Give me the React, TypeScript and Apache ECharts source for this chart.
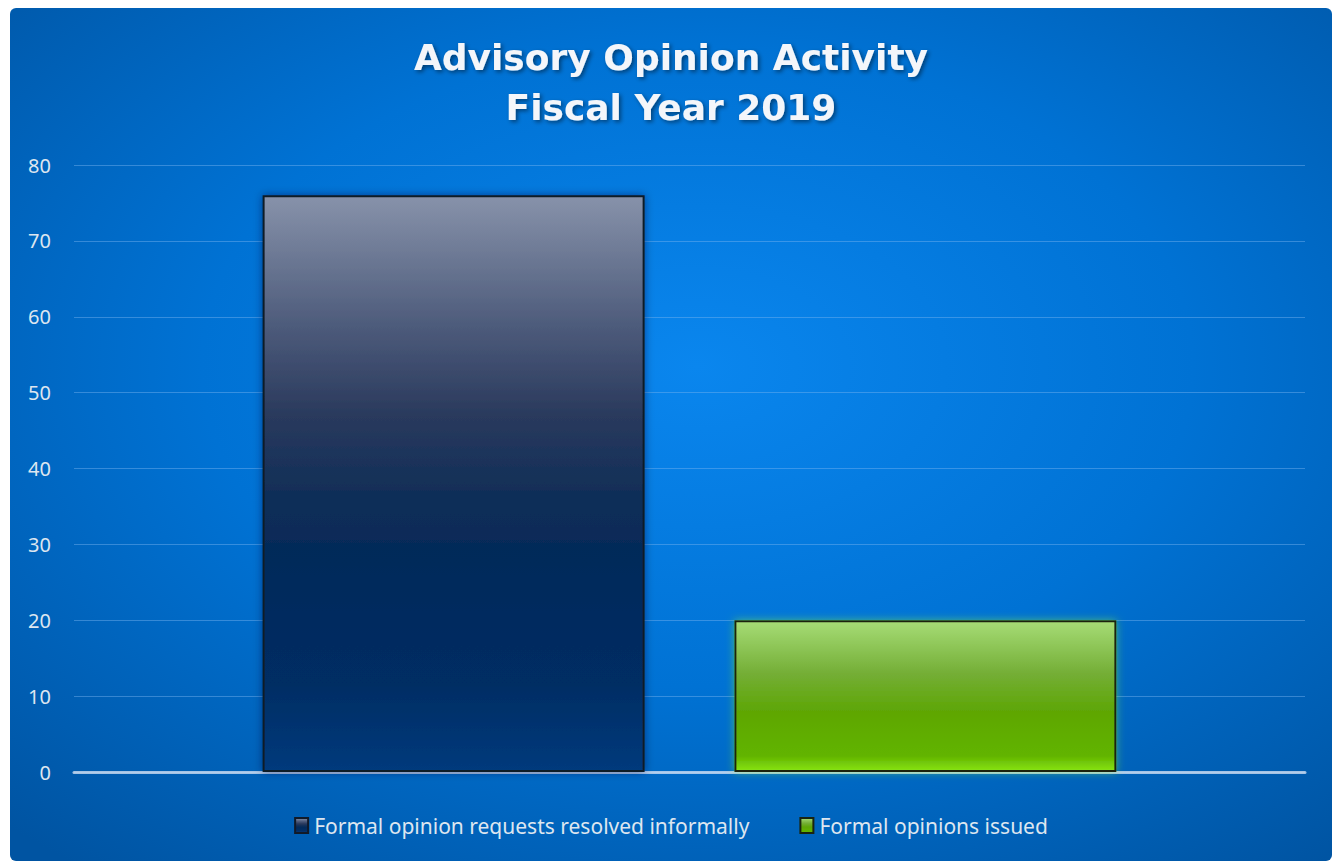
import React, { useEffect, useRef } from "react";
import * as echarts from "echarts";

const categories = ["FY2019"];
const seriesNames = ["Formal opinion requests resolved informally", "Formal opinions issued"];
const resolvedInformally = [76];
const opinionsIssued = [20];
const yTicks = { min: 0, max: 80, interval: 10 };

export default function App() {
  const ref = useRef<HTMLDivElement>(null);
  useEffect(() => {
    const chart = echarts.init(ref.current!, undefined, { renderer: "svg" });
    const blueFill = new echarts.graphic.LinearGradient(0, 0, 0, 1, [
      { offset: 0, color: "#8792aa" },
      { offset: 0.23, color: "#4c5a7a" },
      { offset: 0.38, color: "#2a3a5d" },
      { offset: 0.52, color: "#102e58" },
      { offset: 0.64, color: "#022a5a" },
      { offset: 0.85, color: "#022d64" },
      { offset: 1, color: "#063a7c" },
    ]);
    const greenFill = new echarts.graphic.LinearGradient(0, 0, 0, 1, [
      { offset: 0, color: "#a6dc76" },
      { offset: 0.35, color: "#74ae36" },
      { offset: 0.6, color: "#5ea606" },
      { offset: 0.9, color: "#62b400" },
      { offset: 1, color: "#88e414" },
    ]);
    chart.setOption({
      animation: false,
      backgroundColor: {
        type: "radial",
        x: 0.52,
        y: 0.42,
        r: 0.75,
        colorStops: [
          { offset: 0, color: "#0a86ee" },
          { offset: 0.5, color: "#0072d4" },
          { offset: 1, color: "#0054a2" },
        ],
      },
      title: {
        text: "Advisory Opinion Activity\nFiscal Year 2019",
        left: "center",
        top: 19,
        textStyle: {
          fontFamily: "DejaVu Sans",
          fontWeight: "bold",
          fontSize: 36,
          lineHeight: 50,
          color: "#f4f6fa",
          textShadowColor: "rgba(0,0,0,0.45)",
          textShadowBlur: 4,
          textShadowOffsetX: 2,
          textShadowOffsetY: 2,
        },
      },
      legend: {
        bottom: 20,
        left: "center",
        icon: "rect",
        itemWidth: 13,
        itemHeight: 15,
        itemGap: 50,
        textStyle: { fontFamily: "Noto Sans", fontSize: 21, color: "#dde6f0", padding: [0, 0, 0, 1] },
        data: seriesNames,
      },
      grid: { left: 64, right: 27, top: 157, bottom: 89 },
      xAxis: {
        type: "category",
        data: categories,
        axisLabel: { show: false },
        axisTick: { show: false },
        axisLine: { show: true, lineStyle: { color: "rgba(220,230,245,0.75)", width: 3 } },
      },
      yAxis: {
        type: "value",
        min: yTicks.min,
        max: yTicks.max,
        interval: yTicks.interval,
        axisLabel: { fontFamily: "Noto Sans", fontSize: 20, color: "#dde6f0", margin: 23 },
        axisLine: { show: false },
        axisTick: { show: false },
        splitLine: { lineStyle: { color: "rgba(120,180,240,0.45)", width: 1 } },
      },
      series: [
        {
          name: seriesNames[0],
          type: "bar",
          data: resolvedInformally,
          barWidth: 382,
          barGap: "23.5%",
          itemStyle: {
            color: blueFill,
            borderColor: "#111a28",
            borderWidth: 2,
            shadowColor: "rgba(0,20,60,0.5)",
            shadowBlur: 8,
          },
        },
        {
          name: seriesNames[1],
          type: "bar",
          data: opinionsIssued,
          barWidth: 382,
          itemStyle: {
            color: greenFill,
            borderColor: "#1a2410",
            borderWidth: 2,
            shadowColor: "rgba(140,255,40,0.5)",
            shadowBlur: 8,
          },
        },
      ],
    });
    return () => chart.dispose();
  }, []);
  return (
    <div
      ref={ref}
      style={{ position: "absolute", left: 10, top: 8, width: 1322, height: 853, borderRadius: 6, overflow: "hidden" }}
    />
  );
}
